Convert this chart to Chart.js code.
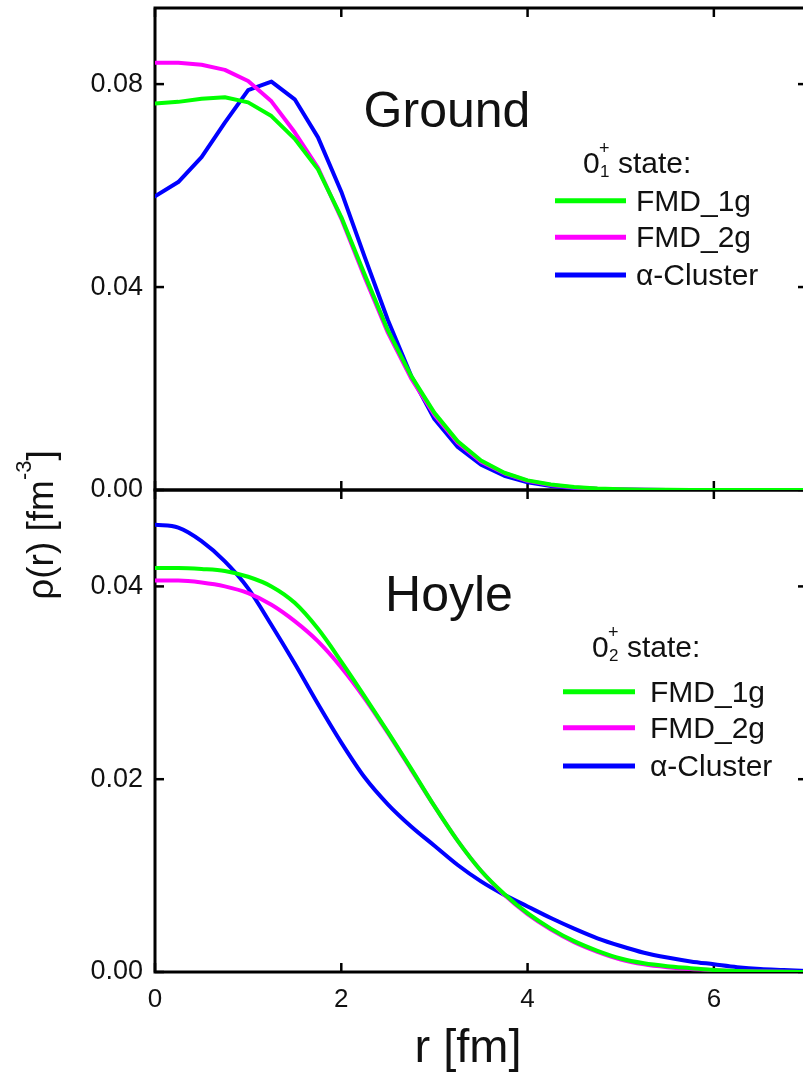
<!DOCTYPE html>
<html>
<head>
<meta charset="utf-8">
<script src="https://cdn.jsdelivr.net/npm/chart.js@4.4.0/dist/chart.umd.min.js"></script>
<style>
html,body{margin:0;padding:0;background:#fff;overflow:hidden;width:803px;height:1075px}
canvas{display:block}
</style>
</head>
<body>
<canvas id="c" width="812" height="1075" style="width:812px;height:1075px"></canvas>
<script>
// ---------- data ----------
const radius = [0,0.25,0.5,0.75,1,1.25,1.5,1.75,2,2.25,2.5,2.75,3,3.25,3.5,3.75,4,4.25,4.5,4.75,5,5.25,5.5,5.75,6,6.25,6.5,6.75,7];

const groundFMD1g = [0.0762,0.0765,0.0771,0.0774,0.0764,0.0737,0.0692,0.0632,0.0538,0.0425,0.0315,0.0225,0.0152,0.0096,0.0058,0.0034,0.0019,0.0011,0.0006,0.0003,0.00015,0.00007,0.00003,0.00001,0,0,0,0,0];
const groundFMD2g = [0.0842,0.0842,0.0838,0.0828,0.0806,0.0766,0.0705,0.0635,0.0535,0.0420,0.0310,0.0220,0.0148,0.0093,0.0056,0.0033,0.0018,0.0010,0.0005,0.00025,0.00012,0.00005,0.00002,0.00001,0,0,0,0,0];
const groundCluster = [0.0579,0.0607,0.0656,0.0724,0.0788,0.0805,0.0770,0.0695,0.0588,0.0460,0.0335,0.0225,0.0140,0.0085,0.0050,0.0028,0.0015,0.0008,0.0004,0.0002,0.0001,0.00004,0.00001,0,0,0,0,0,0];

const hoyleFMD1g = [0.0419,0.0419,0.0418,0.0416,0.0410,0.0400,0.0383,0.0356,0.0322,0.0286,0.0249,0.0211,0.0172,0.0136,0.0105,0.0081,0.0061,0.0045,0.0032,0.0022,0.0014,0.0009,0.0006,0.0004,0.0002,0.0001,0.00005,0.00002,0];
const hoyleFMD2g = [0.0406,0.0406,0.0404,0.0400,0.0393,0.0381,0.0364,0.0343,0.0316,0.0284,0.0248,0.0210,0.0172,0.0136,0.0105,0.0080,0.0060,0.0044,0.0031,0.0021,0.0013,0.0008,0.0005,0.0003,0.0002,0.0001,0.00005,0.00002,0];
const hoyleCluster = [0.0464,0.0461,0.0447,0.0426,0.0398,0.0360,0.0320,0.0278,0.0238,0.0202,0.0174,0.0151,0.0131,0.0111,0.0094,0.0080,0.0068,0.0056,0.0045,0.0035,0.0027,0.0020,0.0015,0.0011,0.0008,0.0005,0.0003,0.0002,0.0001];

const seriesLabels = ['FMD_1g','FMD_2g','\u03B1-Cluster'];
const seriesColors = ['#00ff00','#ff00ff','#0000ff'];
const xTicks = [0,2,4,6];
const yTopTicks = [0,0.04,0.08];
const yBotTicks = [0,0.02,0.04];

// ---------- chart ----------
const FONT = '"Liberation Sans", Arial, Helvetica, sans-serif';
const TICK = 9;

function pts(arr){ return radius.map((r,i)=>({x:r,y:arr[i]})); }
function ds(arr, idx, axis, panel, smooth){
  return {
    label: seriesLabels[idx], panel: panel,
    data: pts(arr), yAxisID: axis,
    borderColor: seriesColors[idx], backgroundColor: seriesColors[idx],
    borderWidth: 4, pointRadius: 0, fill: false,
    tension: 0, cubicInterpolationMode: smooth ? 'monotone' : 'default',
    borderJoinStyle: 'round', borderCapStyle: 'round'
  };
}

function line(ctx,x1,y1,x2,y2){ ctx.beginPath(); ctx.moveTo(x1,y1); ctx.lineTo(x2,y2); ctx.stroke(); }

function drawLegend(ctx, chart, panel, cfg){
  ctx.fillStyle = '#111';
  ctx.textAlign = 'left'; ctx.textBaseline = 'alphabetic';
  ctx.font = '30px ' + FONT;
  ctx.fillText('0', cfg.hx, cfg.hb);
  ctx.font = '18px ' + FONT;
  ctx.fillText('+', cfg.hx + 16, cfg.hb - 19);
  ctx.font = '17px ' + FONT;
  ctx.fillText(cfg.sub, cfg.hx + 17, cfg.hb + 4);
  ctx.font = '30px ' + FONT;
  ctx.fillText('state:', cfg.hx + 35, cfg.hb);
  const sets = chart.data.datasets.filter(d => d.panel === panel);
  ctx.font = '30px ' + FONT;
  sets.forEach((d, i) => {
    const y = cfg.rows[i];
    ctx.strokeStyle = d.borderColor; ctx.lineWidth = 5; ctx.lineCap = 'butt';
    line(ctx, cfg.x1, y, cfg.x2, y);
    ctx.fillStyle = '#111';
    ctx.fillText(d.label, cfg.tx, y + 10);
  });
}

const panelPlugin = {
  id: 'panels',
  beforeDatasetsDraw(chart){
    const ctx = chart.ctx, xs = chart.scales.x;
    const L = chart.chartArea.left, R = chart.chartArea.right;
    ctx.save();
    ctx.strokeStyle = '#000';
    for (const id of ['yTop','yBot']) {
      const s = chart.scales[id];
      ctx.lineWidth = 3;
      ctx.strokeRect(L, s.top, R - L, s.bottom - s.top);
      ctx.lineWidth = 2.5;
      for (const t of s.ticks) {
        const p = s.getPixelForValue(t.value);
        line(ctx, L, p, L + TICK, p);
        line(ctx, R, p, R - TICK, p);
      }
      for (const t of xs.ticks) {
        const p = xs.getPixelForValue(t.value);
        line(ctx, p, s.top, p, s.top + TICK);
        line(ctx, p, s.bottom, p, s.bottom - TICK);
      }
    }
    ctx.restore();
  },
  afterDraw(chart){
    const ctx = chart.ctx;
    ctx.save();
    ctx.fillStyle = '#111';
    // y title
    ctx.save();
    ctx.translate(53, 525);
    ctx.rotate(-Math.PI/2);
    ctx.textBaseline = 'alphabetic'; ctx.textAlign = 'left';
    const big = '37px ' + FONT, small = '22px ' + FONT;
    ctx.font = big; const w1 = ctx.measureText('\u03C1(r) [fm').width;
    ctx.font = small; const w2 = ctx.measureText('-3').width;
    ctx.font = big; const w3 = ctx.measureText(']').width;
    let x0 = -(w1 + w2 + w3) / 2;
    ctx.font = big; ctx.fillText('\u03C1(r) [fm', x0, 0);
    ctx.font = small; ctx.fillText('-3', x0 + w1, -22);
    ctx.font = big; ctx.fillText(']', x0 + w1 + w2, 0);
    ctx.restore();
    // x title
    ctx.textAlign = 'center'; ctx.textBaseline = 'alphabetic';
    ctx.font = '47px ' + FONT;
    ctx.fillText('r [fm]', 468, 1062);
    // panel names
    ctx.font = '50px ' + FONT;
    ctx.fillText('Ground', 447, 127);
    ctx.fillText('Hoyle', 449, 611);
    ctx.textAlign = 'left';
    drawLegend(ctx, chart, 'ground', {hx:583, hb:173, sub:'1', x1:555, x2:626, tx:636, rows:[200.7,237.3,275]});
    drawLegend(ctx, chart, 'hoyle', {hx:592, hb:657, sub:'2', x1:563, x2:635, tx:650, rows:[691.7,727.7,766]});
    ctx.restore();
  }
};

const tickFont = {family: FONT, size: 27};
function noPad(s){ s.paddingTop = 0; s.paddingBottom = 0; s.paddingLeft = 0; s.paddingRight = 0; }

new Chart(document.getElementById('c'), {
  type: 'line',
  data: {
    datasets: [
      ds(groundFMD1g, 0, 'yTop', 'ground', false),
      ds(groundFMD2g, 1, 'yTop', 'ground', false),
      ds(groundCluster, 2, 'yTop', 'ground', false),
      ds(hoyleFMD1g, 0, 'yBot', 'hoyle', true),
      ds(hoyleFMD2g, 1, 'yBot', 'hoyle', true),
      ds(hoyleCluster, 2, 'yBot', 'hoyle', true)
    ]
  },
  options: {
    responsive: false, animation: false, devicePixelRatio: 1,
    layout: {padding: {top: 8, right: 5, left: 0, bottom: 0}},
    plugins: {legend: {display: false}, tooltip: {enabled: false}, title: {display: false}},
    scales: {
      x: {
        type: 'linear', position: 'bottom', min: 0, max: 7,
        afterBuildTicks: s => { s.ticks = xTicks.map(v => ({value: v})); },
        ticks: {font: {family: FONT, size: 26}, color: '#111', padding: 12, maxRotation: 0, autoSkip: false,
                callback: v => String(v)},
        grid: {display: false, drawTicks: false}, border: {display: false},
        afterFit: s => { s.height = 103; noPad(s); }
      },
      yBot: {
        type: 'linear', position: 'left', stack: 'panels', stackWeight: 1, min: 0, max: 0.05,
        afterBuildTicks: s => { s.ticks = yBotTicks.map(v => ({value: v})); },
        ticks: {font: tickFont, color: '#111', padding: 12, autoSkip: false, callback: v => v.toFixed(2)},
        grid: {display: false, drawTicks: false}, border: {display: false},
        afterFit: s => { s.width = 155; noPad(s); }
      },
      yTop: {
        type: 'linear', position: 'left', stack: 'panels', stackWeight: 1, min: 0, max: 0.095,
        afterBuildTicks: s => { s.ticks = yTopTicks.map(v => ({value: v})); },
        ticks: {font: tickFont, color: '#111', padding: 12, autoSkip: false, callback: v => v.toFixed(2)},
        grid: {display: false, drawTicks: false}, border: {display: false},
        afterFit: s => { s.width = 155; noPad(s); }
      }
    }
  },
  plugins: [panelPlugin]
});
</script>
</body>
</html>
